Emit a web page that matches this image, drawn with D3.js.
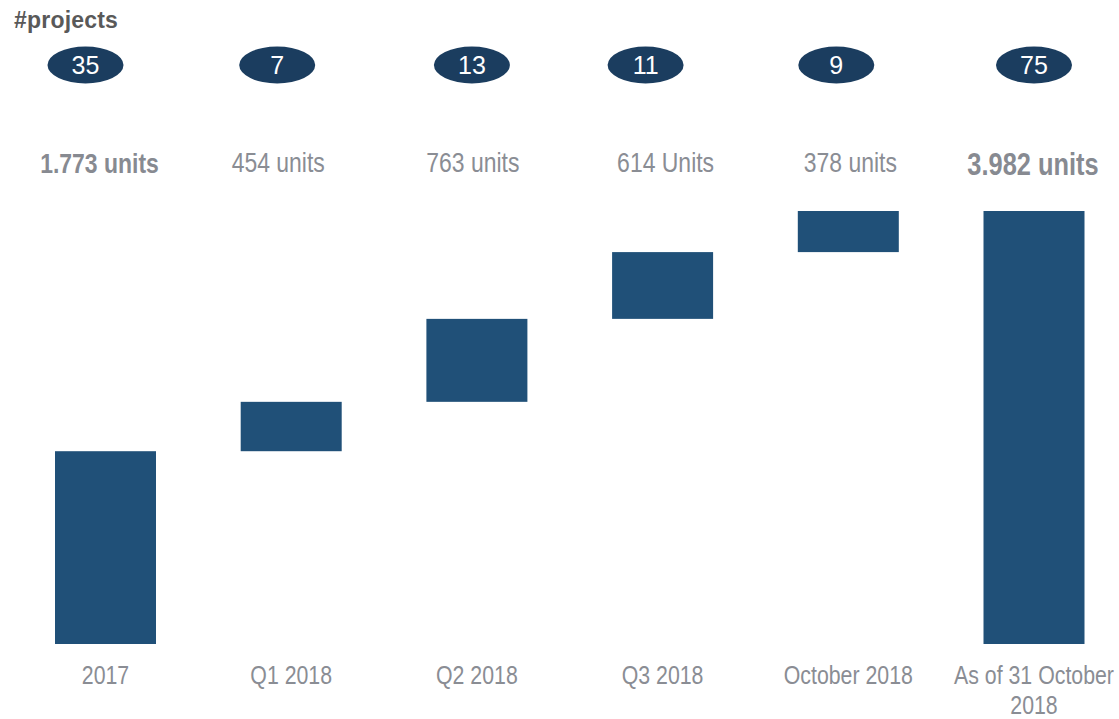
<!DOCTYPE html>
<html>
<head>
<meta charset="utf-8">
<script src="https://cdnjs.cloudflare.com/ajax/libs/d3/7.8.5/d3.min.js"></script>
<style>
  body { margin: 0; background: #fff; }
  svg text { font-family: "Liberation Sans", Arial, sans-serif; }
  svg text.narrow { font-family: "Liberation Sans Narrow", "Arial Narrow", "Liberation Sans", Arial, sans-serif; }
</style>
</head>
<body>
<div class="chart"></div>
<script>
/*DATA*/
var categories = ["2017", "Q1 2018", "Q2 2018", "Q3 2018", "October 2018", "As of 31 October|2018"];
var units = [1773, 454, 763, 614, 378, 3982];
var unitLabels = ["1.773 units", "454 units", "763 units", "614 Units", "378 units", "3.982 units"];
var projects = [35, 7, 13, 11, 9, 75];
var isTotal = [false, false, false, false, false, true];

/*LAYOUT (hand nudges to sit like the slide)*/
var bubbleShift = [-20, -14, -5, -17, -12, 0];
var labelShift = [-6, -13, -4, 3, 2, -1];

var width = 1119, height = 719;
var barW = 101;

var svg = d3.select(".chart")
    .append("svg")
    .attr("width", width)
    .attr("height", height);

/*is a narrow face really there? if not, squeeze the normal one*/
var probeN = svg.append("text").attr("class", "narrow").attr("font-size", 100).text("October 2018");
var probeW = svg.append("text").attr("font-size", 100).text("October 2018");
var squeeze = probeN.node().getComputedTextLength() / probeW.node().getComputedTextLength() > 0.9;
probeN.remove();
probeW.remove();

function narrowAt(xx, yy) {
    return squeeze ? "translate(" + xx + "," + yy + ") scale(0.82,1)" : "translate(" + xx + "," + yy + ")";
}

var x = d3.scalePoint()
    .domain(categories)
    .range([105.5, 1034]);

var y = d3.scaleLinear()
    .domain([0, 3982])
    .range([644, 211]);

/*waterfall start / end*/
var running = 0;
var steps = units.map(function(v, i) {
    var s;
    if (isTotal[i]) {
        s = {y0: 0, y1: v};
    } else {
        s = {y0: running, y1: running + v};
        running += v;
    }
    return s;
});

svg.append("g")
    .selectAll("rect")
    .data(categories)
    .enter()
    .append("rect")
    .attr("x", function(d) { return x(d) - barW / 2; })
    .attr("y", function(d, i) { return y(steps[i].y1); })
    .attr("width", barW)
    .attr("height", function(d, i) { return y(steps[i].y0) - y(steps[i].y1); })
    .attr("fill", "#205078");

/*#projects title*/
svg.append("text")
    .attr("x", 14)
    .attr("y", 28)
    .attr("font-size", 23)
    .attr("font-weight", "bold")
    .attr("letter-spacing", 0.2)
    .attr("fill", "#595959")
    .text("#projects");

/*bubbles*/
var bubbles = svg.append("g")
    .selectAll("g")
    .data(categories)
    .enter()
    .append("g")
    .attr("transform", function(d, i) { return "translate(" + (x(d) + bubbleShift[i]) + ",65)"; });

bubbles.append("ellipse")
    .attr("rx", 38)
    .attr("ry", 18.5)
    .attr("fill", "#1b3d5f");

bubbles.append("text")
    .attr("text-anchor", "middle")
    .attr("y", 8.5)
    .attr("font-size", 25)
    .attr("fill", "#fff")
    .text(function(d, i) { return projects[i]; });

/*unit labels*/
svg.append("g")
    .selectAll("text")
    .data(categories)
    .enter()
    .append("text")
    .attr("class", "narrow")
    .attr("transform", function(d, i) {
        return narrowAt(x(d) + labelShift[i], isTotal[i] ? 175 : (i == 0 ? 173 : 172));
    })
    .attr("text-anchor", "middle")
    .attr("font-size", function(d, i) { return isTotal[i] ? 31 : 28; })
    .attr("font-weight", function(d, i) { return isTotal[i] || i == 0 ? "bold" : "normal"; })
    .attr("fill", function(d, i) { return isTotal[i] || i == 0 ? "#878a91" : "#8a8d94"; })
    .text(function(d, i) { return unitLabels[i]; });

/*category labels*/
var cats = svg.append("g")
    .selectAll("text")
    .data(categories)
    .enter()
    .append("text")
    .attr("class", "narrow")
    .attr("transform", function(d) { return narrowAt(x(d), 684); })
    .attr("text-anchor", "middle")
    .attr("font-size", 26)
    .attr("fill", "#8a8d94");

cats.each(function(d) {
    var lines = d.split("|");
    var t = d3.select(this);
    lines.forEach(function(l, k) {
        t.append("tspan")
            .attr("x", 0)
            .attr("dy", k == 0 ? 0 : 30)
            .text(l);
    });
});
</script>
</body>
</html>
